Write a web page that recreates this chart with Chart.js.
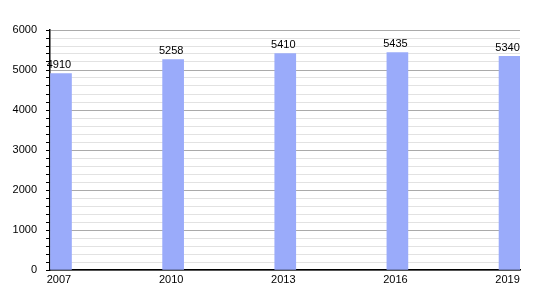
<!DOCTYPE html>
<html>
<head>
<meta charset="utf-8">
<script src="https://cdn.jsdelivr.net/npm/chart.js@4"></script>
<style>
  html, body { margin: 0; padding: 0; background: #fff; }
  #wrap { width: 550px; height: 300px; }
</style>
</head>
<body>
<div id="wrap"><canvas id="chart"></canvas></div>
<script>
const years = [2007, 2010, 2013, 2016, 2019];
const population = [4910, 5258, 5410, 5435, 5340];
const yMax = 6000;

// value labels above each bar
const valueLabels = {
  id: 'valueLabels',
  afterDatasetsDraw(chart) {
    const ctx = chart.ctx;
    const meta = chart.getDatasetMeta(0);
    ctx.save();
    ctx.font = '11px "Liberation Sans", Arial, sans-serif';
    ctx.fillStyle = '#000';
    ctx.textAlign = 'center';
    ctx.textBaseline = 'bottom';
    meta.data.forEach((bar, i) => {
      ctx.fillText(String(population[i]), bar.x - 2, bar.y - 3);
    });
    ctx.restore();
  }
};

const ctx = document.getElementById('chart').getContext('2d');
new Chart(ctx, {
  type: 'bar',
  data: {
    datasets: [{
      data: years.map((y, i) => ({ x: y, y: population[i] })),
      backgroundColor: '#9aabfa',
      borderWidth: 0,
      barThickness: 21
    }]
  },
  options: {
    responsive: true,
    maintainAspectRatio: false,
    animation: false,
    layout: { padding: { top: 30, right: 30, left: 0, bottom: 0 } },
    plugins: {
      legend: { display: false },
      tooltip: { enabled: false }
    },
    scales: {
      x: {
        type: 'linear',
        offset: false,
        min: 2006.706,
        max: 2019.28,
        afterBuildTicks: (scale) => {
          scale.ticks = years.map(v => ({ value: v }));
        },
        afterFit: (scale) => { scale.height = 30; },
        grid: { display: false, drawTicks: false, offset: false },
        border: { display: true, color: '#000', width: 1.5 },
        ticks: {
          autoSkip: false,
          maxRotation: 0,
          padding: 3,
          labelOffset: -2,
          color: '#000',
          font: { family: '"Liberation Sans", Arial, sans-serif', size: 11 },
          callback: (v) => String(v)
        }
      },
      y: {
        min: 0,
        max: yMax,
        afterFit: (scale) => { scale.width = 50; },
        grid: {
          color: (c) => (c.tick && c.tick.value % 1000 === 0) ? '#aaaaaa' : '#e2e2e2',
          lineWidth: 1,
          drawTicks: true,
          tickLength: 4,
          tickColor: '#000'
        },
        border: { display: true, color: '#000', width: 1.5 },
        ticks: {
          stepSize: 200,
          autoSkip: false,
          padding: 9,
          color: '#000',
          font: { family: '"Liberation Sans", Arial, sans-serif', size: 11 },
          callback: (v) => (v % 1000 === 0 ? String(v) : '')
        }
      }
    }
  },
  plugins: [valueLabels]
});
</script>
</body>
</html>
